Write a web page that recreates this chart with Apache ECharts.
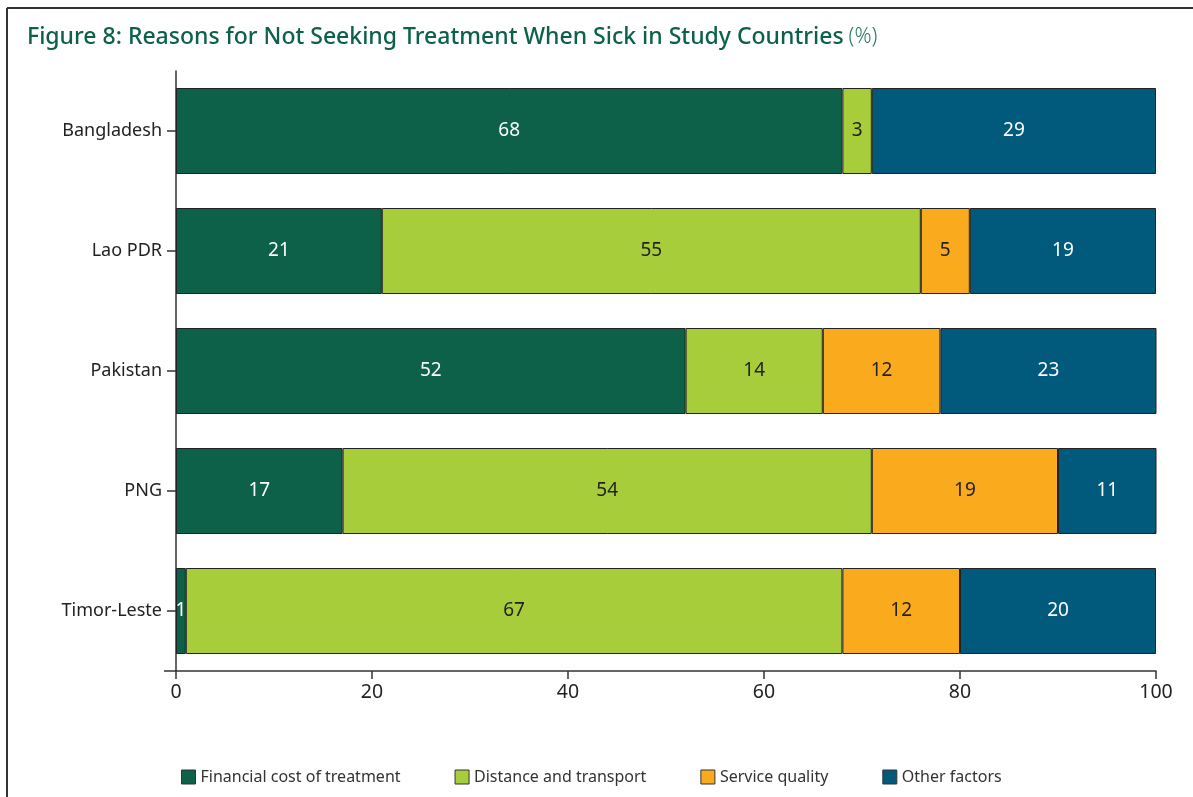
<!DOCTYPE html>
<html>
<head>
<meta charset="utf-8">
<script src="https://cdn.jsdelivr.net/npm/echarts@6/dist/echarts.min.js"></script>
<style>
html,body{margin:0;padding:0;background:#fff;}
#chart{width:1193px;height:797px;}
</style>
</head>
<body>
<div id="chart"></div>
<script>
const countries = ['Bangladesh', 'Lao PDR', 'Pakistan', 'PNG', 'Timor-Leste'];
const seriesNames = ['Financial cost of treatment', 'Distance and transport', 'Service quality', 'Other factors'];
const financialCost = [68, 21, 52, 17, 1];
const distanceTransport = [3, 55, 14, 54, 67];
const serviceQuality = [null, 5, 12, 19, 12];
const otherFactors = [29, 19, 23, 11, 20];
const xTicks = [0, 20, 40, 60, 80, 100];

const colors = ['#0c6148', '#a7cd3a', '#f9ab1d', '#015a7b'];
const labelColors = ['#ffffff', '#222222', '#222222', '#ffffff'];
const allData = [financialCost, distanceTransport, serviceQuality, otherFactors];
const FONT = '"Noto Sans", "DejaVu Sans", sans-serif';

const chart = echarts.init(document.getElementById('chart'));
chart.setOption({
  animation: false,
  backgroundColor: '#ffffff',
  title: {
    text: '{m|Figure 8: Reasons for Not Seeking Treatment When Sick in Study Countries} {p|(%)}',
    left: 22, top: 21,
    textStyle: {
      rich: {
        m: { fontFamily: FONT, fontSize: 23, color: '#0c6148', fontWeight: 500 },
        p: { fontFamily: FONT, fontSize: 21, color: '#2e7a5e', fontWeight: 300 }
      }
    }
  },
  graphic: [
    { type: 'line', shape: { x1: 7, y1: 8, x2: 1193, y2: 8 }, style: { stroke: '#333', lineWidth: 2 } },
    { type: 'line', shape: { x1: 7, y1: 8, x2: 7, y2: 797 }, style: { stroke: '#333', lineWidth: 2 } },
    { type: 'line', shape: { x1: 164, y1: 671, x2: 176, y2: 671 }, style: { stroke: '#333', lineWidth: 1.5 } }
  ],
  legend: {
    data: seriesNames,
    left: 176, top: 764,
    itemWidth: 14, itemHeight: 14, itemGap: 54,
    icon: 'rect',
    textStyle: { fontFamily: FONT, fontSize: 16, color: '#333' },
    itemStyle: { borderColor: '#333', borderWidth: 1 }
  },
  grid: { left: 176, right: 37, top: 71, bottom: 126, containLabel: false },
  xAxis: {
    type: 'value', min: 0, max: 100, interval: 20,
    axisLine: { show: true, lineStyle: { color: '#333', width: 1.5 } },
    axisTick: { show: true, length: 8, lineStyle: { color: '#333', width: 1.5 } },
    splitLine: { show: false },
    axisLabel: {
      fontFamily: FONT, fontSize: 19.5, color: '#222', margin: 11,
      formatter: v => xTicks.includes(v) ? String(v) : ''
    }
  },
  yAxis: {
    type: 'category', data: countries, inverse: true,
    axisLine: { show: true, lineStyle: { color: '#333', width: 1.5 } },
    axisTick: { show: true, alignWithLabel: true, length: 9, lineStyle: { color: '#333', width: 1.5 } },
    axisLabel: { fontFamily: FONT, fontSize: 18, color: '#222', margin: 14 }
  },
  series: seriesNames.map((name, i) => ({
    name, type: 'bar', stack: 'total', barWidth: 86, clip: true,
    data: allData[i],
    itemStyle: { color: colors[i], borderColor: '#222', borderWidth: 1 },
    label: {
      show: true, position: 'inside',
      fontFamily: FONT, fontSize: 19, color: labelColors[i],
      formatter: p => (p.value == null ? '' : String(p.value))
    }
  }))
});
</script>
</body>
</html>
